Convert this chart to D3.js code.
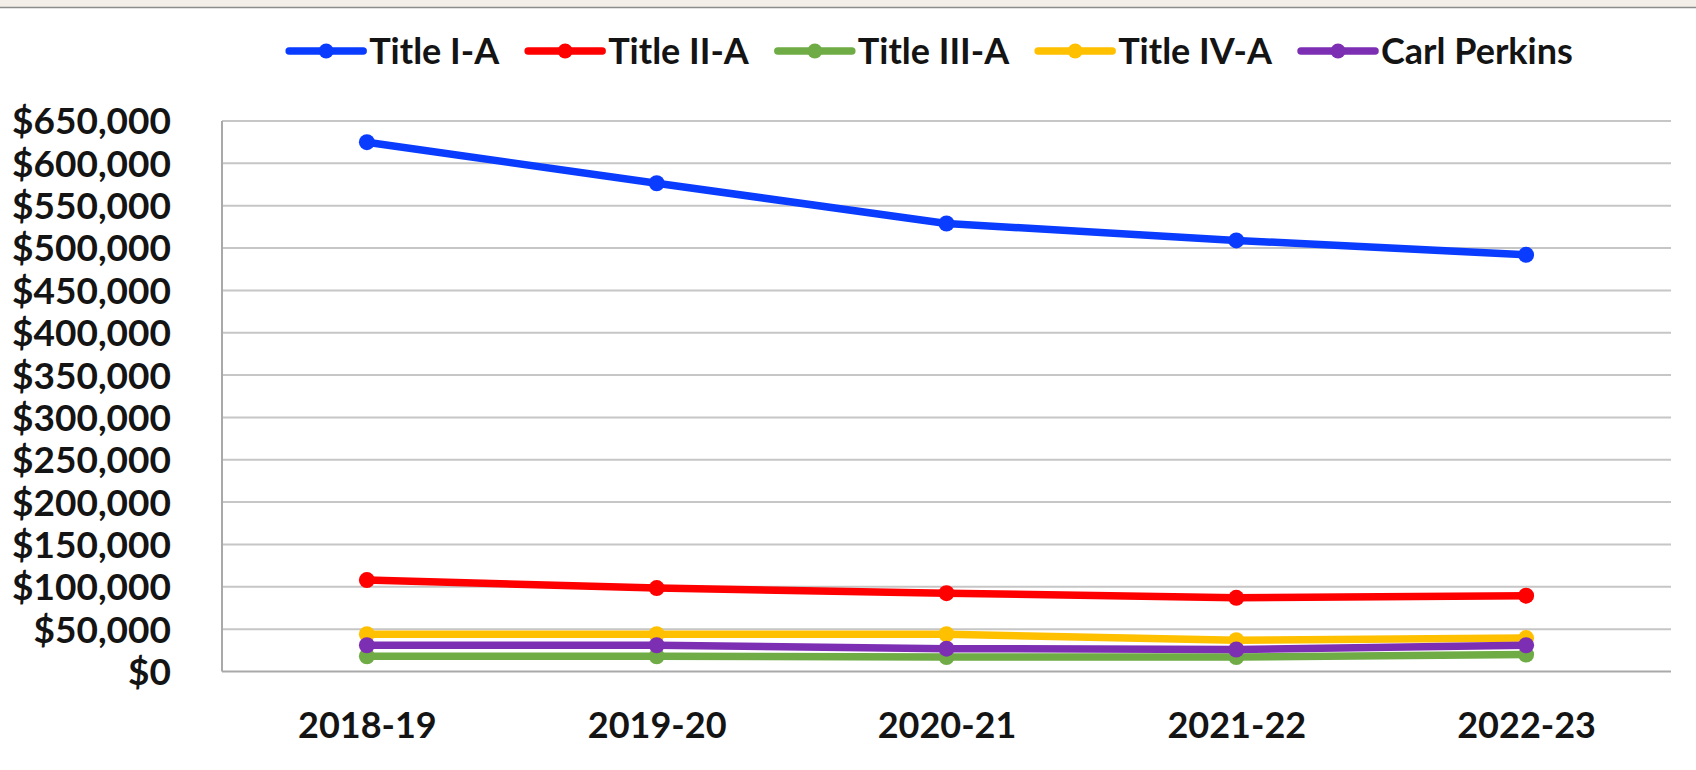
<!DOCTYPE html>
<html>
<head>
<meta charset="utf-8">
<script src="https://cdn.jsdelivr.net/npm/d3@7"></script>
<style>
    body { margin: 0; background: #fff; }
    text { font-family: Lato, "Open Sans", sans-serif; font-weight: 700; fill: #141414; }
</style>
</head>
<body>
<script>
(function(){

    //chart data
    var years = ["2018-19", "2019-20", "2020-21", "2021-22", "2022-23"];
    var seriesNames = ["Title I-A", "Title II-A", "Title III-A", "Title IV-A", "Carl Perkins"];
    var titleIA = [625000, 576500, 529000, 509000, 492000];
    var titleIIA = [108000, 98500, 92500, 87000, 89500];
    var titleIIIA = [18000, 18000, 17000, 17000, 20000];
    var titleIVA = [44000, 44000, 44000, 37000, 39500];
    var carlPerkins = [31000, 31000, 27000, 26000, 31000];
    var yTicks = [0, 50000, 100000, 150000, 200000, 250000, 300000, 350000, 400000, 450000, 500000, 550000, 600000, 650000];
    var colors = ["#0a3cff", "#ff0000", "#6fac46", "#ffc000", "#7d2fb3"];

    window.onload = function(){
        setChart();
    };

    function setChart(){
        var width = 1696,
            height = 770;

        var svg = d3.select("body")
            .append("svg")
            .attr("width", width)
            .attr("height", height);

        //beige strip at the top of the picture
        svg.append("rect")
            .attr("x", 0).attr("y", 0)
            .attr("width", width).attr("height", 7)
            .style("fill", "#f3efe8");
        svg.append("line")
            .attr("x1", 0).attr("x2", width)
            .attr("y1", 7.5).attr("y2", 7.5)
            .style("stroke", "#8c8c8c")
            .style("stroke-width", 1.5);

        var plotLeft = 222, plotRight = 1671, plotTop = 121, plotBottom = 671.5;

        var x = d3.scalePoint()
            .domain(years)
            .range([plotLeft, plotRight])
            .padding(0.5);

        var y = d3.scaleLinear()
            .domain([0, 650000])
            .range([plotBottom, plotTop]);

        //gridlines
        svg.append("g")
            .selectAll("line")
            .data(yTicks.slice(1))
            .enter()
            .append("line")
            .attr("x1", plotLeft)
            .attr("x2", plotRight)
            .attr("y1", function(d){ return y(d); })
            .attr("y2", function(d){ return y(d); })
            .style("stroke", "#c6c6c6")
            .style("stroke-width", 2);

        //y axis
        var yAxis = d3.axisLeft(y)
            .tickValues(yTicks)
            .tickSize(0)
            .tickPadding(51)
            .tickFormat(function(d){ return "$" + d3.format(",")(d); });

        var gy = svg.append("g")
            .attr("transform", "translate(" + plotLeft + ",0)")
            .call(yAxis);
        gy.select(".domain").remove();
        gy.selectAll("text")
            .style("font-size", "37px")
            .attr("dy", "0.35em");

        //x axis
        var xAxis = d3.axisBottom(x)
            .tickSize(0)
            .tickPadding(41);

        var gx = svg.append("g")
            .attr("transform", "translate(0," + plotBottom + ")")
            .call(xAxis);
        gx.select(".domain").remove();
        gx.selectAll("text")
            .style("font-size", "36px");

        //plot borders: left and bottom
        svg.append("line")
            .attr("x1", plotLeft).attr("x2", plotLeft)
            .attr("y1", plotTop).attr("y2", plotBottom)
            .style("stroke", "#a9a9a9")
            .style("stroke-width", 2);
        svg.append("line")
            .attr("x1", plotLeft).attr("x2", plotRight)
            .attr("y1", plotBottom).attr("y2", plotBottom)
            .style("stroke", "#a9a9a9")
            .style("stroke-width", 2);

        var allSeries = [titleIA, titleIIA, titleIIIA, titleIVA, carlPerkins];

        var line = d3.line()
            .x(function(d, i){ return x(years[i]); })
            .y(function(d){ return y(d); });

        allSeries.forEach(function(values, s){
            var g = svg.append("g").attr("class", "series");
            g.append("path")
                .datum(values)
                .attr("d", line)
                .style("fill", "none")
                .style("stroke", colors[s])
                .style("stroke-width", 7.5)
                .style("stroke-linejoin", "round");
            g.selectAll("circle")
                .data(values)
                .enter()
                .append("circle")
                .attr("cx", function(d, i){ return x(years[i]); })
                .attr("cy", function(d){ return y(d); })
                .attr("r", 8)
                .style("fill", colors[s]);
        });

        setLegend(svg);
    };

    function setLegend(svg){
        var legend = svg.append("g").attr("class", "legend");
        var legendY = 51,
            symbolLen = 74,
            textGap = 6,
            itemGap = 28;

        var items = legend.selectAll(".item")
            .data(seriesNames)
            .enter()
            .append("g")
            .attr("class", "item");

        items.append("line")
            .attr("x1", 0).attr("x2", symbolLen)
            .attr("y1", 0).attr("y2", 0)
            .style("stroke", function(d, i){ return colors[i]; })
            .style("stroke-width", 7.5)
            .style("stroke-linecap", "round");
        items.append("circle")
            .attr("cx", symbolLen / 2)
            .attr("cy", 0)
            .attr("r", 7.5)
            .style("fill", function(d, i){ return colors[i]; });
        items.append("text")
            .attr("x", symbolLen + textGap)
            .attr("y", 0)
            .attr("dy", "0.35em")
            .style("font-size", "36px")
            .text(function(d){ return d; });

        //place items one after another
        var offset = 0;
        items.each(function(){
            var w = this.getBBox().width;
            d3.select(this).attr("transform", "translate(" + offset + "," + legendY + ")");
            offset += w + itemGap;
        });
        var total = offset - itemGap;
        legend.attr("transform", "translate(" + (931 - total / 2) + ",0)");
    };

})();
</script>
</body>
</html>
